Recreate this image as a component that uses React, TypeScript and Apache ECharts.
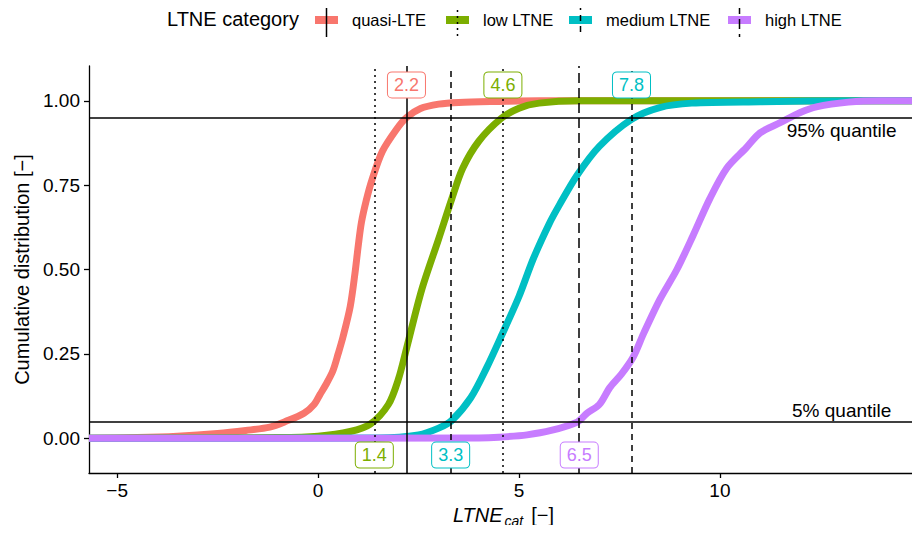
import React, { useEffect, useRef } from "react";
import * as echarts from "echarts";

// ---------- data ----------
const categories = ["quasi-LTE", "low LTNE", "medium LTNE", "high LTNE"];
const colors = ["#F8766D", "#7CAE00", "#00BFC4", "#C77CFF"];
const lineTypes = ["solid", "dotted", "dashed", "longdash"];

const quasiLTE: number[][] = [
  [-5.7, 0], [-4.5, 0.002], [-3.5, 0.006], [-2.5, 0.014], [-1.8, 0.023], [-1.2, 0.033],
  [-0.8, 0.05], [-0.35, 0.074], [-0.1, 0.1], [0.05, 0.13], [0.2, 0.16], [0.37, 0.2],
  [0.5, 0.25], [0.62, 0.3], [0.8, 0.39], [0.92, 0.49], [1.0, 0.57], [1.08, 0.64],
  [1.2, 0.705], [1.34, 0.765], [1.6, 0.85], [1.95, 0.915], [2.2, 0.95], [2.55, 0.977],
  [3.0, 0.99], [3.5, 0.995], [4.5, 0.998], [5.5, 1.0], [14.93, 1.0],
];
const lowLTNE: number[][] = [
  [-5.7, 0], [-1.0, 0.002], [0.0, 0.006], [0.8, 0.02], [1.3, 0.042], [1.75, 0.1],
  [2.0, 0.175], [2.2, 0.265], [2.58, 0.44], [3.0, 0.59], [3.33, 0.71], [3.6, 0.8],
  [4.0, 0.88], [4.55, 0.947], [5.0, 0.978], [5.5, 0.993], [6.5, 1.0], [14.93, 1.0],
];
const mediumLTNE: number[][] = [
  [-5.7, 0], [1.5, 0.001], [2.5, 0.01], [3.0, 0.03], [3.33, 0.053], [3.8, 0.12],
  [4.2, 0.21], [4.55, 0.3], [5.0, 0.42], [5.35, 0.53], [5.75, 0.635], [6.0, 0.69],
  [6.45, 0.78], [7.0, 0.865], [7.8, 0.945], [8.5, 0.98], [9.3, 0.993], [11.0, 0.997],
  [13.4, 1.0], [14.93, 1.0],
];
const highLTNE: number[][] = [
  [-5.7, 0], [4.0, 0.001], [4.5, 0.003], [5.2, 0.01], [5.8, 0.023], [6.45, 0.048],
  [6.7, 0.075], [7.0, 0.1], [7.26, 0.15], [7.55, 0.19], [7.84, 0.24], [8.1, 0.31],
  [8.5, 0.41], [8.93, 0.5], [9.33, 0.6], [9.75, 0.71], [10.17, 0.8], [10.65, 0.86],
  [11.0, 0.905], [11.5, 0.935], [12.0, 0.965], [12.4, 0.982], [13.2, 0.996],
  [14.0, 1.0], [14.93, 1.0],
];
const seriesData = [quasiLTE, lowLTNE, mediumLTNE, highLTNE];

// quantile markers: value, category index, which quantile
const quantileValues = [1.4, 2.2, 3.3, 4.6, 6.5, 7.8];
const quantileCategory = [1, 0, 2, 1, 3, 2];
const quantileIsUpper = [false, true, false, true, false, true];

const probabilityLevels = [0.05, 0.95];
const probabilityTexts = ["5% quantile", "95% quantile"];

const xTicks = [-5, 0, 5, 10];
const yTicks = [0, 0.25, 0.5, 0.75, 1.0];

// ---------- styling ----------
const FONT = "'Liberation Sans', Arial, Helvetica, sans-serif";
const dash: Record<string, any> = {
  solid: "solid",
  dotted: [2, 4],
  dashed: [6, 5],
  longdash: [10, 5],
};

export default function App() {
  const ref = useRef<HTMLDivElement>(null);

  useEffect(() => {
    if (!ref.current) return;
    const chart = echarts.init(ref.current, undefined, { renderer: "svg" });

    const curveSeries = seriesData.map((d, i) => ({
      name: categories[i],
      type: "line",
      data: d,
      showSymbol: false,
      symbol: "none",
      smooth: 0.3,
      clip: true,
      lineStyle: { color: colors[i], width: 7, cap: "butt", join: "round" },
      z: 2 + i,
    }));

    const refLineSeries = {
      name: "reference lines",
      type: "line",
      data: [],
      z: 8,
      markLine: {
        silent: true,
        symbol: "none",
        label: { show: false },
        z: 8,
        data: [
          ...quantileValues.map((v, k) => ({
            xAxis: v,
            lineStyle: {
              color: "#000",
              width: 1.5,
              type: dash[lineTypes[quantileCategory[k]]],
            },
          })),
          ...probabilityLevels.map((p) => ({
            yAxis: p,
            lineStyle: { color: "#000", width: 1.5, type: "solid" },
          })),
        ],
      },
    };

    // boxed quantile labels (custom series so they sit above the reference lines)
    const boxSeries = {
      name: "quantiles",
      type: "custom",
      z: 30,
      silent: true,
      data: quantileValues.map((v, k) => [v, quantileIsUpper[k] ? 1.047 : -0.05, quantileCategory[k]]),
      renderItem: (params: any, api: any) => {
        const pt = api.coord([api.value(0), api.value(1)]);
        const c = colors[api.value(2)];
        return {
          type: "text",
          x: pt[0],
          y: pt[1],
          style: {
            text: api.value(0).toFixed(1),
            fill: c,
            font: `18px ${FONT}`,
            align: "center",
            verticalAlign: "middle",
            backgroundColor: "#ffffff",
            borderColor: c,
            borderWidth: 1,
            borderRadius: 4,
            padding: [4, 6, 3, 6],
          },
        };
      },
    };

    const textSeries = {
      name: "quantile levels",
      type: "custom",
      z: 31,
      silent: true,
      data: probabilityLevels.map((p, k) => [13.03, p < 0.5 ? p + 0.032 : p - 0.038, k]),
      renderItem: (params: any, api: any) => {
        const pt = api.coord([api.value(0), api.value(1)]);
        return {
          type: "text",
          x: pt[0],
          y: pt[1],
          style: {
            text: probabilityTexts[api.value(2)],
            fill: "#000",
            font: `19px ${FONT}`,
            align: "center",
            verticalAlign: "middle",
          },
        };
      },
    };

    // legend built from graphic elements (colored key + black linetype)
    const keyX = [315, 446, 569, 728];
    const legendGraphic: any[] = [
      {
        type: "text",
        left: 167,
        top: 9,
        style: { text: "LTNE category", fontFamily: FONT, fontSize: 20, fill: "#000" },
      },
    ];
    categories.forEach((c, i) => {
      legendGraphic.push({
        type: "rect",
        shape: { x: keyX[i], y: 16, width: 23, height: 8 },
        style: { fill: colors[i] },
      });
      legendGraphic.push({
        type: "line",
        shape: { x1: keyX[i] + 11.5, y1: 4, x2: keyX[i] + 11.5, y2: 37 },
        style: {
          stroke: "#000",
          lineWidth: 1.5,
          lineDash: lineTypes[i] === "solid" ? null : dash[lineTypes[i]],
        },
      });
      legendGraphic.push({
        type: "text",
        x: keyX[i] + 37,
        y: 20,
        style: {
          text: c,
          fontFamily: FONT,
          fontSize: 16.5,
          fill: "#000",
          verticalAlign: "middle",
        },
      });
    });

    const option: any = {
      animation: false,
      textStyle: { fontFamily: FONT },
      grid: { left: 89, right: 2, top: 66, bottom: 57, containLabel: false },
      xAxis: {
        type: "value",
        min: -5.7,
        max: 14.93,
        name: "{i|LTNE}{s|cat}{n|[−]}",
        nameLocation: "middle",
        nameGap: 29,
        nameTextStyle: {
          rich: {
            i: { fontFamily: FONT, fontSize: 20, fontStyle: "italic", color: "#000" },
            s: { fontFamily: FONT, fontSize: 14, fontStyle: "italic", color: "#000", padding: [12, 0, 0, 2] },
            n: { fontFamily: FONT, fontSize: 20, color: "#000", padding: [0, 0, 0, 8] },
          },
        },
        splitLine: { show: false },
        axisLine: { onZero: false, lineStyle: { color: "#000", width: 1.3 } },
        axisTick: { length: 5, lineStyle: { color: "#000", width: 1.3 }, customValues: xTicks },
        axisLabel: {
          customValues: xTicks,
          color: "#000",
          fontFamily: FONT,
          fontSize: 19,
          margin: 8,
          formatter: (v: number) => String(v).replace("-", "−"),
        },
      },
      yAxis: {
        type: "value",
        min: -0.103,
        max: 1.103,
        name: "Cumulative distribution [−]",
        nameLocation: "middle",
        nameGap: 57,
        nameRotate: 90,
        nameTextStyle: { fontFamily: FONT, fontSize: 20, color: "#000" },
        splitLine: { show: false },
        axisLine: { onZero: false, lineStyle: { color: "#000", width: 1.3 } },
        axisTick: { length: 5, lineStyle: { color: "#000", width: 1.3 }, customValues: yTicks },
        axisLabel: {
          customValues: yTicks,
          color: "#000",
          fontFamily: FONT,
          fontSize: 19,
          margin: 9,
          formatter: (v: number) => v.toFixed(2),
        },
      },
      series: [...curveSeries, refLineSeries, boxSeries, textSeries],
      graphic: legendGraphic,
    };

    chart.setOption(option);
    return () => chart.dispose();
  }, []);

  return <div ref={ref} style={{ width: 920, height: 533, margin: -8 }} />;
}
